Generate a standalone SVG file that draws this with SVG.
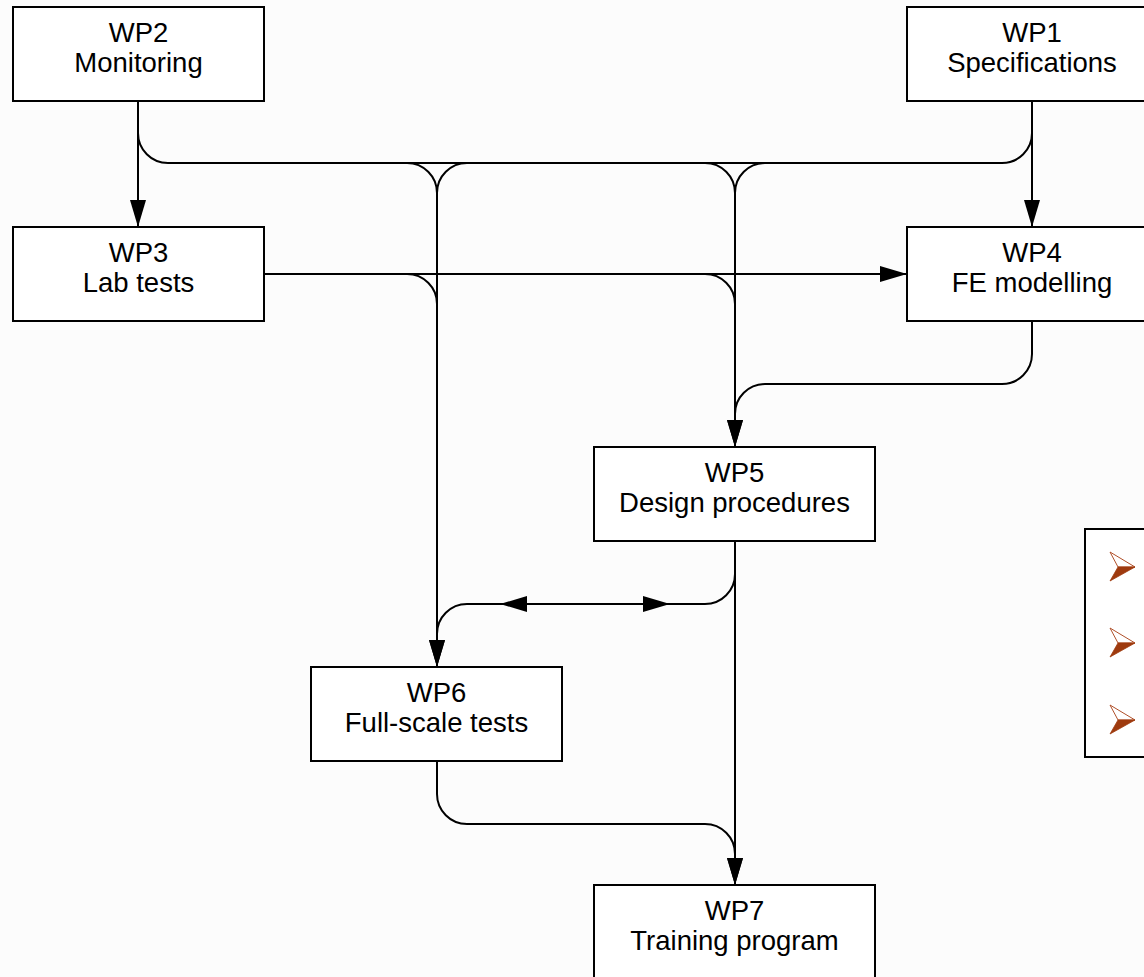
<svg xmlns="http://www.w3.org/2000/svg" width="1144" height="977" viewBox="0 0 1144 977">
<style>
.box{fill:#ffffff;stroke:#000000;stroke-width:2}
.lbl{font-family:"Liberation Sans",Arial,sans-serif;font-size:27.5px;fill:#000000;text-anchor:middle}
.c{fill:none;stroke:#000000;stroke-width:2}
.bul-top{fill:#ffffff;stroke:#b0502a;stroke-width:1}
.bul-bot{fill:#9e3a0e;stroke:#9e3a0e;stroke-width:0.8}
</style>
<defs>
<marker id="ah" markerUnits="userSpaceOnUse" markerWidth="27" markerHeight="16" refX="27" refY="8" orient="auto-start-reverse">
<path d="M0,0 L27,8 L0,16 z" fill="#000000"/>
</marker>
</defs>
<rect x="0" y="0" width="1144" height="977" fill="#fcfcfc"/>
<g id="connectors">
<path class="c" d="M138,101 V227" marker-end="url(#ah)"/>
<path class="c" d="M1032,101 V227" marker-end="url(#ah)"/>
<path class="c" d="M138,101 V133 A30,30 0 0 0 168,163 H1002 A30,30 0 0 0 1032,133 V101"/>
<path class="c" d="M407,163 A30,30 0 0 1 437,193 V667" marker-end="url(#ah)"/>
<path class="c" d="M467,163 A30,30 0 0 0 437,193"/>
<path class="c" d="M705,163 A30,30 0 0 1 735,193 V447" marker-end="url(#ah)"/>
<path class="c" d="M765,163 A30,30 0 0 0 735,193"/>
<path class="c" d="M264,274 H907" marker-end="url(#ah)"/>
<path class="c" d="M407,274 A30,30 0 0 1 437,304"/>
<path class="c" d="M705,274 A30,30 0 0 1 735,304"/>
<path class="c" d="M1032,321 V354 A30,30 0 0 1 1002,384 H765 A30,30 0 0 0 735,414 V447" marker-end="url(#ah)"/>
<path class="c" d="M735,541 V885" marker-end="url(#ah)"/>
<path class="c" d="M735,574 A30,30 0 0 1 705,604 H467 A30,30 0 0 0 437,634 V667" marker-end="url(#ah)"/>
<path class="c" d="M500,604 H670" marker-start="url(#ah)" marker-end="url(#ah)"/>
<path class="c" d="M437,761 V794 A30,30 0 0 0 467,824 H705 A30,30 0 0 1 735,854 V885" marker-end="url(#ah)"/>
</g>
<g id="wp2">
<rect class="box" x="13" y="7" width="251" height="94"/>
<text class="lbl" x="138.5" y="42">WP2</text>
<text class="lbl" x="138.5" y="72">Monitoring</text>
</g>
<g id="wp1">
<rect class="box" x="907" y="7" width="251" height="94"/>
<text class="lbl" x="1032" y="42">WP1</text>
<text class="lbl" x="1032" y="72">Specifications</text>
</g>
<g id="wp3">
<rect class="box" x="13" y="227" width="251" height="94"/>
<text class="lbl" x="138.5" y="262">WP3</text>
<text class="lbl" x="138.5" y="292">Lab tests</text>
</g>
<g id="wp4">
<rect class="box" x="907" y="227" width="251" height="94"/>
<text class="lbl" x="1032" y="262">WP4</text>
<text class="lbl" x="1032" y="292">FE modelling</text>
</g>
<g id="wp5">
<rect class="box" x="594" y="447" width="281" height="94"/>
<text class="lbl" x="734.5" y="482">WP5</text>
<text class="lbl" x="734.5" y="512">Design procedures</text>
</g>
<g id="wp6">
<rect class="box" x="311" y="667" width="251" height="94"/>
<text class="lbl" x="436.5" y="702">WP6</text>
<text class="lbl" x="436.5" y="732">Full-scale tests</text>
</g>
<g id="wp7">
<rect class="box" x="594" y="885" width="281" height="94"/>
<text class="lbl" x="734.5" y="920">WP7</text>
<text class="lbl" x="734.5" y="950">Training program</text>
</g>
<g id="legend">
<rect class="box" x="1085" y="529" width="80" height="228"/>
<g>
<path class="bul-top" d="M1110,552 L1135,567 L1118,567 z"/>
<path class="bul-bot" d="M1118,567 L1135,567 L1110,581 z"/>
</g>
<g transform="translate(0,76)">
<path class="bul-top" d="M1110,552 L1135,567 L1118,567 z"/>
<path class="bul-bot" d="M1118,567 L1135,567 L1110,581 z"/>
</g>
<g transform="translate(0,153)">
<path class="bul-top" d="M1110,552 L1135,567 L1118,567 z"/>
<path class="bul-bot" d="M1118,567 L1135,567 L1110,581 z"/>
</g>
</g>
</svg>
